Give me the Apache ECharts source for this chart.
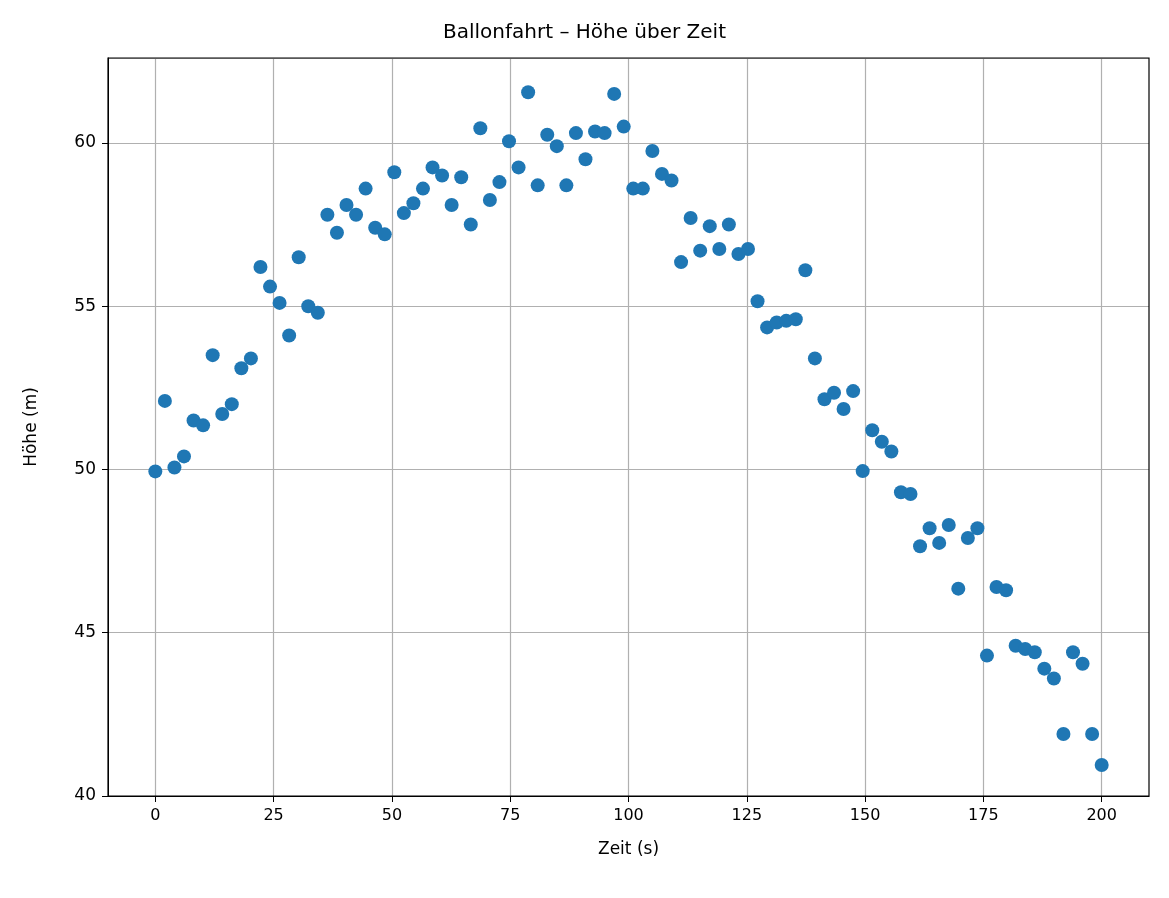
<!DOCTYPE html>
<html>
<head>
<meta charset="utf-8">
<script src="https://cdn.jsdelivr.net/npm/echarts@6/dist/echarts.min.js"></script>
<style>html,body{margin:0;padding:0;background:#fff}#chart{width:1169px;height:898px}</style>
</head>
<body>
<div id="chart"></div>
<script>
(function () {
  // Zeit: 100 gleichmäßige Schritte von 0 bis 200 s
  var count = 100;
  var hoehe = [
    49.94, 52.1, 50.06, 50.4, 51.5, 51.35, 53.5, 51.7, 52.0, 53.1,
    53.4, 56.2, 55.6, 55.1, 54.1, 56.5, 55.0, 54.8, 57.8, 57.25,
    58.1, 57.8, 58.6, 57.4, 57.2, 59.1, 57.85, 58.15, 58.6, 59.25,
    59.0, 58.1, 58.95, 57.5, 60.45, 58.25, 58.8, 60.05, 59.25, 61.55,
    58.7, 60.25, 59.9, 58.7, 60.3, 59.5, 60.35, 60.3, 61.5, 60.5,
    58.6, 58.6, 59.75, 59.05, 58.85, 56.35, 57.7, 56.7, 57.45, 56.75,
    57.5, 56.6, 56.75, 55.15, 54.35, 54.5, 54.55, 54.6, 56.1, 53.4,
    52.15, 52.35, 51.85, 52.4, 49.95, 51.2, 50.85, 50.55, 49.3, 49.25,
    47.65, 48.2, 47.75, 48.3, 46.35, 47.9, 48.2, 44.3, 46.4, 46.3,
    44.6, 44.5, 44.4, 43.9, 43.6, 41.9, 44.4, 44.05, 41.9, 40.95
  ];
  var xTicks = [0, 25, 50, 75, 100, 125, 150, 175, 200];

  var data = hoehe.map(function (h, i) { return [i * 200 / (count - 1), h]; });

  var font = 'DejaVu Sans';
  var chart = echarts.init(document.getElementById('chart'));
  chart.setOption({
    animation: false,
    title: {
      text: 'Ballonfahrt – Höhe über Zeit', left: 'center', top: 18,
      textStyle: { fontFamily: font, fontSize: 20, fontWeight: 'normal', color: '#000' }
    },
    grid: { left: 108, right: 20, top: 58, bottom: 102 },
    xAxis: {
      type: 'value', min: -10, max: 210,
      name: 'Zeit (s)', nameLocation: 'middle', nameGap: 45,
      nameTextStyle: { fontFamily: font, fontSize: 17, color: '#000' },
      axisLine: { onZero: false, lineStyle: { color: '#000' } },
      axisTick: { show: true, customValues: xTicks, length: 6, lineStyle: { color: '#000' } },
      axisLabel: { customValues: xTicks, fontFamily: font, fontSize: 16, color: '#000', margin: 12 },
      splitLine: { show: true, lineStyle: { color: '#b0b0b0', width: 1.2 } }
    },
    yAxis: {
      type: 'value', min: 40, max: 62.6, interval: 5,
      name: 'Höhe (m)', nameLocation: 'middle', nameGap: 68, nameRotate: 90,
      nameTextStyle: { fontFamily: font, fontSize: 17, color: '#000' },
      axisLine: { show: true, onZero: false, lineStyle: { color: '#000' } },
      axisTick: { show: true, length: 6, lineStyle: { color: '#000' } },
      axisLabel: { showMaxLabel: false, fontFamily: font, fontSize: 17, color: '#000', margin: 12 },
      splitLine: { show: true, lineStyle: { color: '#b0b0b0', width: 1.2 } }
    },
    series: [{
      type: 'scatter', data: data, symbolSize: 14,
      itemStyle: { color: '#1f77b4', opacity: 1 }
    }],
    graphic: [{
      type: 'rect', shape: { x: 108, y: 58, width: 1041, height: 738 },
      style: { fill: 'none', stroke: '#000', lineWidth: 1.2 }, silent: true, z: 10
    }]
  });
}());
</script>
</body>
</html>
